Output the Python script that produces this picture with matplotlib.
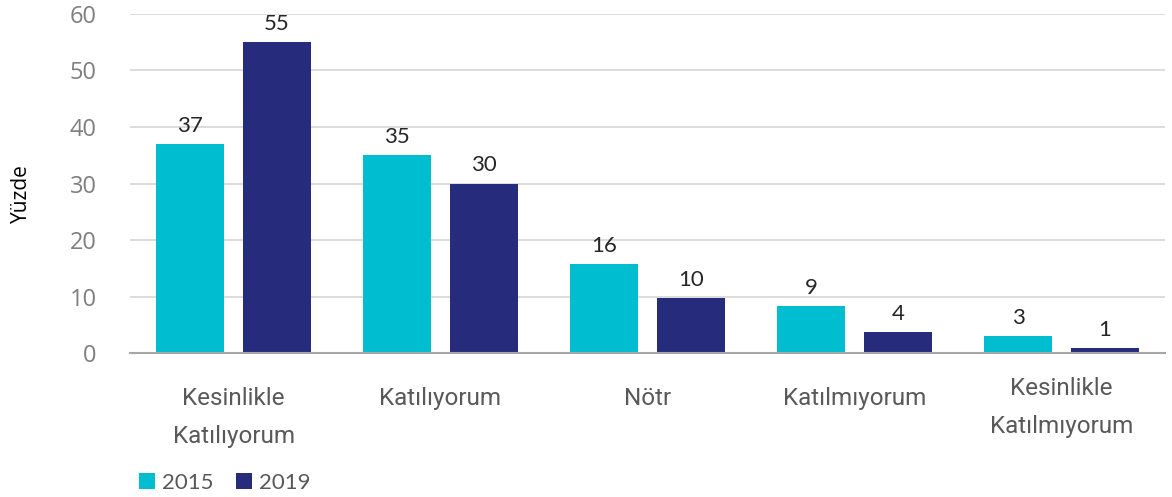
import matplotlib.pyplot as plt
import matplotlib.transforms as mtransforms
import numpy as np

categories = ["Kesinlikle\nKatılıyorum", "Katılıyorum", "Nötr", "Katılmıyorum",
              "Kesinlikle\nKatılmıyorum"]
vals_2015 = [37, 35, 15.8, 8.3, 3.0]
vals_2019 = [55, 30, 9.7, 3.7, 0.9]
labels_2015 = ["37", "35", "16", "9", "3"]
labels_2019 = ["55", "30", "10", "4", "1"]
yticks = [0, 10, 20, 30, 40, 50, 60]

c2015 = "#00BDD0"
c2019 = "#262C7B"

fig = plt.figure(figsize=(11.72, 4.97), dpi=100)
ax = fig.add_axes([0.111, 0.289, 0.883, 0.683])

x = np.arange(len(categories))
w = 0.33
off = 0.21
b1 = ax.bar(x - off, vals_2015, w, color=c2015, label="2015", zorder=3)
b2 = ax.bar(x + off, vals_2019, w, color=c2019, label="2019", zorder=3)

# Value labels above bars
for bars, labs in ((b1, labels_2015), (b2, labels_2019)):
    for bar, lab in zip(bars, labs):
        ax.annotate(lab, (bar.get_x() + bar.get_width() / 2, bar.get_height()),
                    xytext=(0, 6), textcoords="offset points",
                    ha="center", va="bottom", fontsize=16, color="#262626",
                    family="Lato")

ax.set_xlim(-0.5, 4.5)
ax.set_ylim(0, 60)
ax.set_yticks(yticks)
ax.yaxis.grid(True, color="#d9d9d9", linewidth=1.3, zorder=0)
ax.set_axisbelow(True)
for s in ("top", "right", "left"):
    ax.spines[s].set_visible(False)
ax.spines["bottom"].set_color("#a6a6a6")
ax.spines["bottom"].set_linewidth(1.5)
ax.spines["bottom"].set_zorder(4)

ax.tick_params(axis="y", length=0, pad=24, labelsize=17, labelcolor="#7f7f7f")
for t in ax.get_yticklabels():
    t.set_family("Open Sans")
ax.set_xticks(x)
ax.set_xticklabels(categories, fontsize=17.5, color="#595959",
                   family="Roboto", linespacing=1.85)
ax.tick_params(axis="x", length=0, pad=24)

# last label sits a little higher in the original
last = ax.get_xticklabels()[-1]
last.set_transform(last.get_transform() +
                   mtransforms.ScaledTranslation(0, 10 / 100, fig.dpi_scale_trans))

ax.set_ylabel("Yüzde", fontsize=15, family="Open Sans", color="black")
ax.yaxis.set_label_coords(-0.095, 0.47)

ax.legend(loc="lower left", bbox_to_anchor=(-0.011, -0.47), ncol=2,
          frameon=False, handlelength=0.75, handleheight=0.75,
          handletextpad=0.3, columnspacing=1.0, labelcolor="#595959",
          prop={"family": "Lato", "size": 16})

fig.savefig("out.png", dpi=100)
